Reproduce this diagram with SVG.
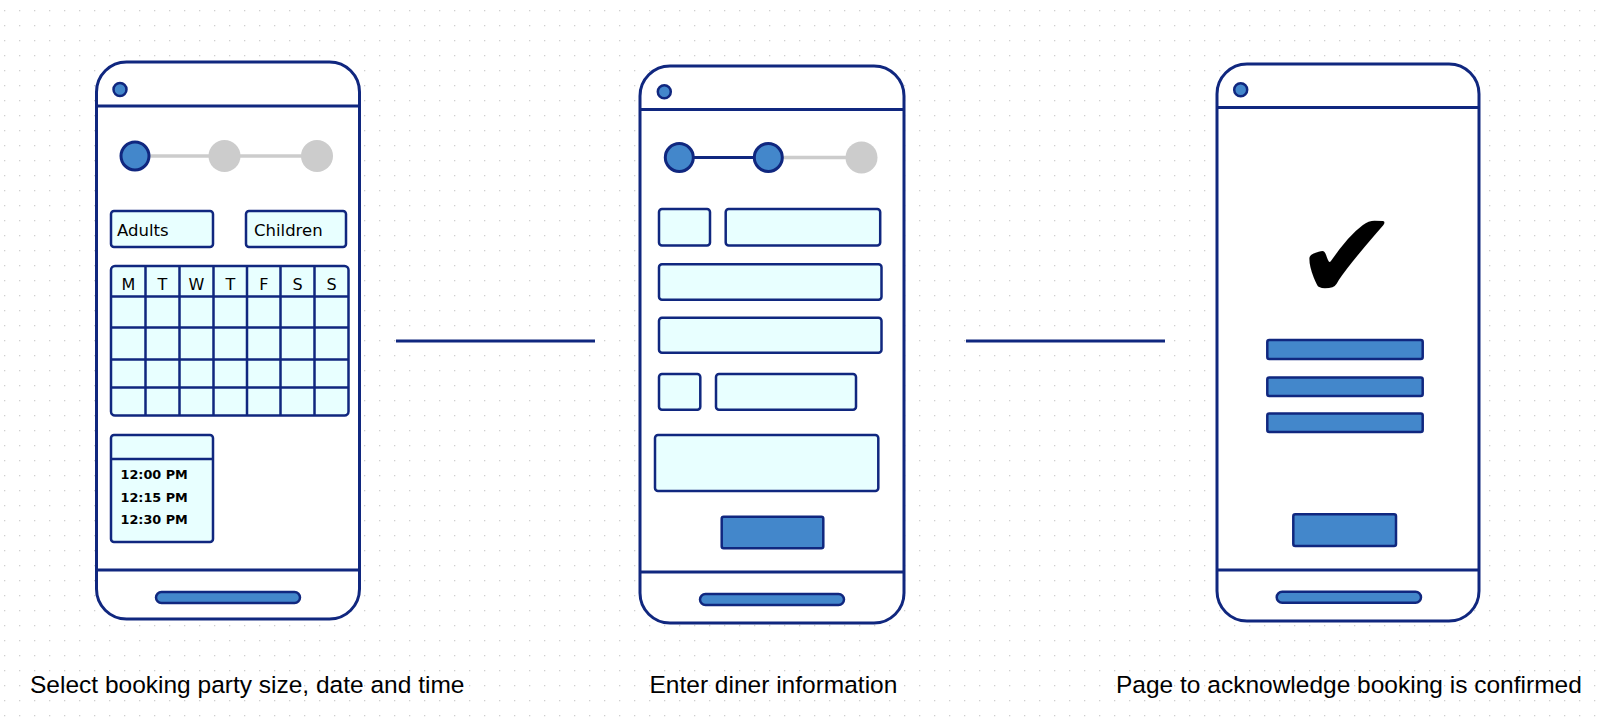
<svg xmlns="http://www.w3.org/2000/svg" width="1600" height="718" viewBox="0 0 1600 718">
<defs>
<pattern id="dots" patternUnits="userSpaceOnUse" width="15" height="15">
<rect x="4" y="10" width="1.3" height="1.3" fill="#cfcfcf"/>
</pattern>
<style>
.phone{fill:#ffffff;stroke:#10277f;stroke-width:3}
.div{stroke:#10277f;stroke-width:3;fill:none}
.cam{fill:#4387cb;stroke:#10277f;stroke-width:2.5}
.bar{fill:#4387cb;stroke:#10277f;stroke-width:2.5}
.box{fill:#e8ffff;stroke:#10277f;stroke-width:2.5}
.grid{stroke:#10277f;stroke-width:2.5;fill:none}
.step{fill:#4387cb;stroke:#10277f;stroke-width:3}
.off{fill:#cccccc}
.gl{stroke:#cccccc;stroke-width:3.5}
.nl{stroke:#10277f;stroke-width:3}
.lbl{font-family:"DejaVu Sans",sans-serif;font-size:16.5px;fill:#000}
.day{font-family:"DejaVu Sans",sans-serif;font-size:16px;fill:#000;text-anchor:middle}
.time{font-family:"DejaVu Sans",sans-serif;font-size:12.8px;font-weight:bold;fill:#000}
.cap{font-family:"Liberation Sans",Arial,sans-serif;font-size:24.5px;fill:#000}
.conn{stroke:#10277f;stroke-width:3}
</style>
</defs>
<rect width="1600" height="718" fill="#ffffff"/>
<rect width="1600" height="718" fill="url(#dots)"/>

<g id="connectors">
<line class="conn" x1="396" y1="341" x2="595" y2="341"/>
<line class="conn" x1="966" y1="341" x2="1165" y2="341"/>
</g>

<g id="phone1">
<rect class="phone" x="96.5" y="62" width="263" height="557" rx="30"/>
<line class="div" x1="96.5" y1="106" x2="359.5" y2="106"/>
<line class="div" x1="96.5" y1="570" x2="359.5" y2="570"/>
<circle class="cam" cx="120" cy="89.5" r="6.5"/>
<rect class="bar" x="156" y="592" width="144" height="11" rx="5.5"/>
<line class="gl" x1="150" y1="156" x2="302" y2="156"/>
<circle class="step" cx="135" cy="156" r="14"/>
<circle class="off" cx="224.5" cy="156" r="16"/>
<circle class="off" cx="317" cy="156" r="16"/>
<rect class="box" x="111" y="211" width="102" height="36" rx="3"/>
<text class="lbl" x="117" y="236">Adults</text>
<rect class="box" x="246" y="211" width="100" height="36" rx="3"/>
<text class="lbl" x="254" y="236">Children</text>
<rect class="box" x="111" y="266" width="237.5" height="149.5" rx="4"/>
<path class="grid" d="M145.5 266V415.5M179.5 266V415.5M213.5 266V415.5M247 266V415.5M280.5 266V415.5M314.5 266V415.5M111 296.5H348.5M111 327.5H348.5M111 359.5H348.5M111 387.5H348.5"/>
<text class="day" x="128.3" y="290">M</text>
<text class="day" x="162.5" y="290">T</text>
<text class="day" x="196.5" y="290">W</text>
<text class="day" x="230.3" y="290">T</text>
<text class="day" x="263.8" y="290">F</text>
<text class="day" x="297.5" y="290">S</text>
<text class="day" x="331.5" y="290">S</text>
<rect class="box" x="111" y="435" width="102" height="107" rx="3"/>
<line class="grid" x1="111" y1="459" x2="213" y2="459"/>
<text class="time" x="120.5" y="479">12:00 PM</text>
<text class="time" x="120.5" y="501.5">12:15 PM</text>
<text class="time" x="120.5" y="524">12:30 PM</text>
</g>

<g id="phone2">
<rect class="phone" x="640" y="66" width="264" height="557" rx="30"/>
<line class="div" x1="640" y1="109.5" x2="904" y2="109.5"/>
<line class="div" x1="640" y1="572" x2="904" y2="572"/>
<circle class="cam" cx="664.3" cy="91.7" r="6.5"/>
<rect class="bar" x="700" y="594" width="144" height="11" rx="5.5"/>
<line class="nl" x1="679" y1="157.5" x2="768" y2="157.5"/>
<line class="gl" x1="768" y1="157.5" x2="860" y2="157.5"/>
<circle class="step" cx="679.3" cy="157.5" r="14"/>
<circle class="step" cx="768.3" cy="157.5" r="14"/>
<circle class="off" cx="861.5" cy="157.5" r="16"/>
<rect class="box" x="659" y="209" width="51" height="36.5" rx="3"/>
<rect class="box" x="725.7" y="209" width="154.5" height="36.5" rx="3"/>
<rect class="box" x="659" y="264.3" width="222.5" height="35.5" rx="3"/>
<rect class="box" x="659" y="317.7" width="222.5" height="35" rx="3"/>
<rect class="box" x="659" y="374" width="41.3" height="35.7" rx="3"/>
<rect class="box" x="716" y="374" width="140" height="35.7" rx="3"/>
<rect class="box" x="655" y="435" width="223.3" height="56" rx="3"/>
<rect class="bar" x="721.7" y="516.7" width="101.6" height="31.6" rx="2"/>
</g>

<g id="phone3">
<rect class="phone" x="1217" y="64" width="262" height="557" rx="30"/>
<line class="div" x1="1217" y1="107.5" x2="1479" y2="107.5"/>
<line class="div" x1="1217" y1="570" x2="1479" y2="570"/>
<circle class="cam" cx="1240.7" cy="89.7" r="6.5"/>
<rect class="bar" x="1276.7" y="591.7" width="144.3" height="11" rx="5.5"/>
<text x="1347" y="299" font-family="DejaVu Sans,sans-serif" font-size="124" text-anchor="middle" fill="#000">✔</text>
<rect class="bar" x="1267.3" y="340" width="155.4" height="19" rx="2"/>
<rect class="bar" x="1267.3" y="377.5" width="155.4" height="18.5" rx="2"/>
<rect class="bar" x="1267.3" y="413.5" width="155.4" height="18.5" rx="2"/>
<rect class="bar" x="1293.3" y="514.3" width="102.7" height="31.7" rx="2"/>
</g>

<g id="captions">
<text class="cap" x="30" y="693">Select booking party size, date and time</text>
<text class="cap" x="649.5" y="693">Enter diner information</text>
<text class="cap" x="1116" y="693">Page to acknowledge booking is confirmed</text>
</g>
</svg>
